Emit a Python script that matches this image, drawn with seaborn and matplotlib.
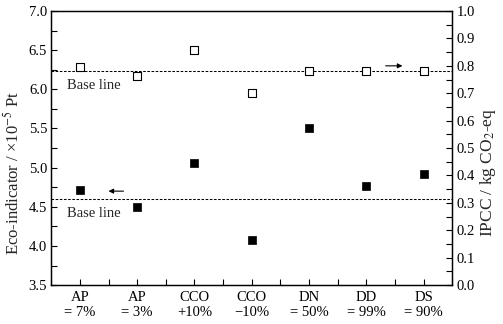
import matplotlib
matplotlib.use("Agg")
import matplotlib.pyplot as plt
import seaborn as sns
import pandas as pd
from matplotlib.ticker import MultipleLocator, FormatStrFormatter

sns.set_style("ticks")
plt.rcParams["font.family"] = ["Liberation Serif", "DejaVu Serif"]
plt.rcParams["mathtext.fontset"] = "stix"

categories = ["AP\n= 7%", "AP\n= 3%", "CCO\n+10%", "CCO\n\u221210%", "DN\n= 50%", "DD\n= 99%", "DS\n= 90%"]
eco_indicator = [4.71, 4.50, 5.06, 4.08, 5.50, 4.77, 4.92]   # x10^-5 Pt
ipcc = [0.797, 0.764, 0.859, 0.701, 0.781, 0.781, 0.781]      # kg CO2-eq
eco_base = 4.60
ipcc_base = 0.78

df = pd.DataFrame({"pos": range(len(categories)), "eco": eco_indicator, "ipcc": ipcc})

fig, ax = plt.subplots(figsize=(5.03, 3.24), dpi=100)
fig.subplots_adjust(left=0.102, right=0.899, top=0.966, bottom=0.12)
ax2 = ax.twinx()

# Eco-indicator: filled squares (left axis)
sns.scatterplot(data=df, x="pos", y="eco", ax=ax, marker="s", s=34,
                color="black", edgecolor="black", linewidth=0.5, zorder=3)
# IPCC: open squares (right axis)
sns.scatterplot(data=df, x="pos", y="ipcc", ax=ax2, marker="s", s=38,
                facecolor="white", edgecolor="black", linewidth=0.8, zorder=3)

ax.axhline(eco_base, color="black", ls=(0, (2.5, 1.5)), lw=0.75, zorder=1)
ax2.axhline(ipcc_base, color="black", ls=(0, (2.5, 1.5)), lw=0.75, zorder=1)

ax.set_xlim(-0.5, 6.5)
ax.set_ylim(3.5, 7.0)
ax2.set_ylim(0.0, 1.0)

ax.set_xticks(range(len(categories)))
ax.set_xticklabels(categories, fontsize=10.5, linespacing=1.25)
ax.xaxis.set_minor_locator(MultipleLocator(0.5))
ax.yaxis.set_major_locator(MultipleLocator(0.5))
ax.yaxis.set_minor_locator(MultipleLocator(0.25))
ax.yaxis.set_major_formatter(FormatStrFormatter("%.1f"))
ax2.yaxis.set_major_locator(MultipleLocator(0.1))
ax2.yaxis.set_minor_locator(MultipleLocator(0.05))
ax2.yaxis.set_major_formatter(FormatStrFormatter("%.1f"))

for a in (ax, ax2):
    a.tick_params(which="both", direction="in", length=4, width=0.8, labelsize=10.5,
                  colors="black", pad=3)
    for sp in a.spines.values():
        sp.set_linewidth(0.9)
        sp.set_visible(True)
        sp.set_color("black")
ax.tick_params(axis="x", which="both", top=False, pad=4)

ax.set_xlabel("")
ax.set_ylabel("Eco-indicator / \u00d710$^{-5}$ Pt", fontsize=12)
ax2.set_ylabel("IPCC / kg CO$_2$-eq", fontsize=12.5)
ax.yaxis.set_label_coords(-0.072, 0.41)
ax2.yaxis.set_label_coords(1.065, 0.41)

ax.text(-0.23, 6.055, "Base line", fontsize=10.5, va="center", ha="left")
ax.text(-0.22, 4.41, "Base line", fontsize=10.5, va="center", ha="left")

ax.annotate("", xy=(0.45, 4.70), xytext=(0.81, 4.70),
            arrowprops=dict(arrowstyle="-|>", color="black", lw=0.8, mutation_scale=7))
ax2.annotate("", xy=(5.68, 0.80), xytext=(5.29, 0.80),
             arrowprops=dict(arrowstyle="-|>", color="black", lw=0.8, mutation_scale=7))

fig.savefig("out.png", dpi=100)
